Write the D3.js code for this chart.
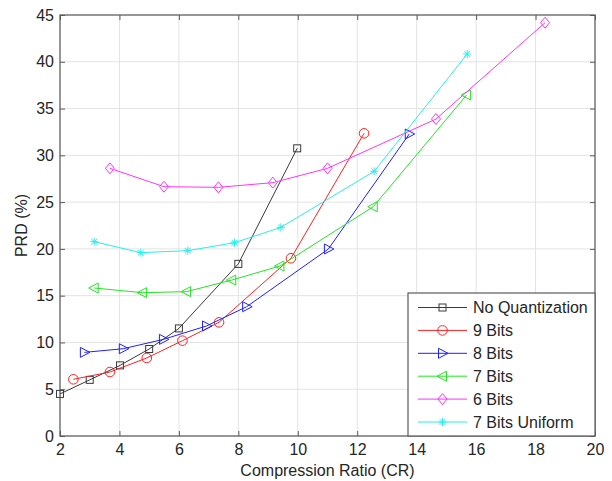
<!DOCTYPE html>
<html>
<head>
<meta charset="utf-8">
<script src="https://cdn.jsdelivr.net/npm/d3@7"></script>
<style>
  body { margin: 0; background: #fff; }
  text { font-family: "Liberation Sans", Arial, sans-serif; fill: #262626; }
</style>
</head>
<body>
<div id="chart"></div>
<script>
// data
const noQuantCR  = [2.0, 3.0, 4.02, 5.0, 6.0, 8.0, 9.98];
const noQuantPRD = [4.5, 6.0, 7.55, 9.3, 11.5, 18.4, 30.75];

const bits9CR  = [2.45, 3.68, 4.92, 6.12, 7.35, 9.77, 12.23];
const bits9PRD = [6.06, 6.84, 8.34, 10.19, 12.15, 19.0, 32.35];

const bits8CR  = [2.82, 4.13, 5.48, 6.93, 8.28, 11.03, 13.75];
const bits8PRD = [8.94, 9.33, 10.33, 11.76, 13.82, 19.99, 32.28];

const bits7CR  = [3.15, 4.78, 6.26, 7.78, 9.4, 12.54, 15.68];
const bits7PRD = [15.82, 15.32, 15.43, 16.67, 18.17, 24.51, 36.45];

const bits6CR  = [3.68, 5.5, 7.33, 9.16, 11.0, 14.65, 18.32];
const bits6PRD = [28.61, 26.65, 26.58, 27.08, 28.61, 33.88, 44.18];

const bits7uCR  = [3.15, 4.72, 6.3, 7.87, 9.43, 12.57, 15.7];
const bits7uPRD = [20.77, 19.6, 19.81, 20.66, 22.3, 28.29, 40.83];

const seriesNames = ['No Quantization', '9 Bits', '8 Bits', '7 Bits', '6 Bits', '7 Bits Uniform'];
const xTicks = [2, 4, 6, 8, 10, 12, 14, 16, 18, 20];
const yTicks = [0, 5, 10, 15, 20, 25, 30, 35, 40, 45];

const series = [
  { name: seriesNames[0], cr: noQuantCR, prd: noQuantPRD, color: '#3a3a3a', marker: 'square' },
  { name: seriesNames[1], cr: bits9CR,   prd: bits9PRD,   color: '#ff2020', marker: 'circle' },
  { name: seriesNames[2], cr: bits8CR,   prd: bits8PRD,   color: '#2020ff', marker: 'right' },
  { name: seriesNames[3], cr: bits7CR,   prd: bits7PRD,   color: '#22e622', marker: 'left' },
  { name: seriesNames[4], cr: bits6CR,   prd: bits6PRD,   color: '#ff33ff', marker: 'diamond' },
  { name: seriesNames[5], cr: bits7uCR,  prd: bits7uPRD,  color: '#22f0f0', marker: 'star' }
];

const width = 612, height = 481;
const margin = { top: 15, right: 17, bottom: 45, left: 60 };
const fontSize = '16px';

const svg = d3.select('#chart').append('svg')
  .attr('width', width)
  .attr('height', height);

const x = d3.scaleLinear().domain([2, 20]).range([margin.left, width - margin.right]);
const y = d3.scaleLinear().domain([0, 45]).range([height - margin.bottom, margin.top]);

// grid
svg.append('g').selectAll('line').data(xTicks).enter().append('line')
  .attr('x1', d => x(d)).attr('x2', d => x(d))
  .attr('y1', y(0)).attr('y2', y(45))
  .attr('stroke', '#e3e3e3').attr('stroke-width', 1);
svg.append('g').selectAll('line').data(yTicks).enter().append('line')
  .attr('x1', x(2)).attr('x2', x(20))
  .attr('y1', d => y(d)).attr('y2', d => y(d))
  .attr('stroke', '#e3e3e3').attr('stroke-width', 1);

// axes with inward ticks on all sides
const tickLen = 5;
const axisColor = '#5a5a5a';
svg.append('g').attr('transform', 'translate(0,' + y(0) + ')')
  .call(d3.axisBottom(x).tickValues(xTicks).tickSizeInner(-tickLen).tickSizeOuter(0).tickPadding(8))
  .call(g => g.select('.domain').remove());
svg.append('g').attr('transform', 'translate(0,' + y(45) + ')')
  .call(d3.axisTop(x).tickValues(xTicks).tickSizeInner(-tickLen).tickSizeOuter(0).tickFormat(''))
  .call(g => g.select('.domain').remove());
svg.append('g').attr('transform', 'translate(' + x(2) + ',0)')
  .call(d3.axisLeft(y).tickValues(yTicks).tickSizeInner(-tickLen).tickSizeOuter(0).tickPadding(6))
  .call(g => g.select('.domain').remove());
svg.append('g').attr('transform', 'translate(' + x(20) + ',0)')
  .call(d3.axisRight(y).tickValues(yTicks).tickSizeInner(-tickLen).tickSizeOuter(0).tickFormat(''))
  .call(g => g.select('.domain').remove());

svg.selectAll('.tick line').attr('stroke', axisColor);
svg.selectAll('.tick text')
  .style('font-family', '"Liberation Sans", Arial, sans-serif')
  .style('font-size', fontSize)
  .attr('fill', '#262626');

svg.append('rect')
  .attr('x', x(2)).attr('y', y(45))
  .attr('width', x(20) - x(2)).attr('height', y(0) - y(45))
  .attr('fill', 'none').attr('stroke', axisColor).attr('stroke-width', 1.2);

// markers
function drawMarker(g, type, cx, cy, color) {
  const s = 4;
  if (type === 'square') {
    g.append('rect').attr('x', cx - 3.5).attr('y', cy - 3.5).attr('width', 7).attr('height', 7)
      .attr('fill', 'none').attr('stroke', color);
  } else if (type === 'circle') {
    g.append('circle').attr('cx', cx).attr('cy', cy).attr('r', 4.8)
      .attr('fill', 'none').attr('stroke', color);
  } else if (type === 'right') {
    g.append('path').attr('d', `M${cx - s},${cy - 5}L${cx + 5.5},${cy}L${cx - s},${cy + 5}Z`)
      .attr('fill', 'none').attr('stroke', color);
  } else if (type === 'left') {
    g.append('path').attr('d', `M${cx + s},${cy - 5}L${cx - 5.5},${cy}L${cx + s},${cy + 5}Z`)
      .attr('fill', 'none').attr('stroke', color);
  } else if (type === 'diamond') {
    g.append('path').attr('d', `M${cx},${cy - 5.5}L${cx + 4.5},${cy}L${cx},${cy + 5.5}L${cx - 4.5},${cy}Z`)
      .attr('fill', 'none').attr('stroke', color);
  } else if (type === 'star') {
    const r = 4, d = 2.9;
    g.append('path').attr('d',
      `M${cx - r},${cy}L${cx + r},${cy}M${cx},${cy - r}L${cx},${cy + r}` +
      `M${cx - d},${cy - d}L${cx + d},${cy + d}M${cx - d},${cy + d}L${cx + d},${cy - d}`)
      .attr('fill', 'none').attr('stroke', color);
  }
}

const line = d3.line().x(d => x(d[0])).y(d => y(d[1]));

series.forEach(s => {
  const pts = s.cr.map((c, i) => [c, s.prd[i]]);
  const g = svg.append('g');
  g.append('path').datum(pts)
    .attr('d', line)
    .attr('fill', 'none')
    .attr('stroke', s.color)
    .attr('stroke-width', 1);
  pts.forEach(p => drawMarker(g, s.marker, x(p[0]), y(p[1]), s.color));
});

// axis labels
svg.append('text')
  .attr('x', (x(2) + x(20)) / 2).attr('y', 476)
  .attr('text-anchor', 'middle')
  .style('font-size', fontSize)
  .text('Compression Ratio (CR)');
svg.append('text')
  .attr('transform', 'translate(27,' + (y(22.5)) + ') rotate(-90)')
  .attr('text-anchor', 'middle')
  .style('font-size', fontSize)
  .text('PRD (%)');

// legend
const lgX = 408, lgY = 293, lgW = x(20) - 408, lgH = y(0) - 293;
const legend = svg.append('g');
legend.append('rect')
  .attr('x', lgX).attr('y', lgY).attr('width', lgW).attr('height', lgH)
  .attr('fill', '#fff').attr('stroke', axisColor).attr('stroke-width', 1.2);
series.forEach((s, i) => {
  const cy = lgY + 14.5 + i * 22.9;
  legend.append('line')
    .attr('x1', 418).attr('x2', 467).attr('y1', cy).attr('y2', cy)
    .attr('stroke', s.color).attr('stroke-width', 1);
  drawMarker(legend, s.marker, 442.5, cy, s.color);
  legend.append('text')
    .attr('x', 473).attr('y', cy + 5.5)
    .style('font-size', fontSize)
    .text(s.name);
});
</script>
</body>
</html>
